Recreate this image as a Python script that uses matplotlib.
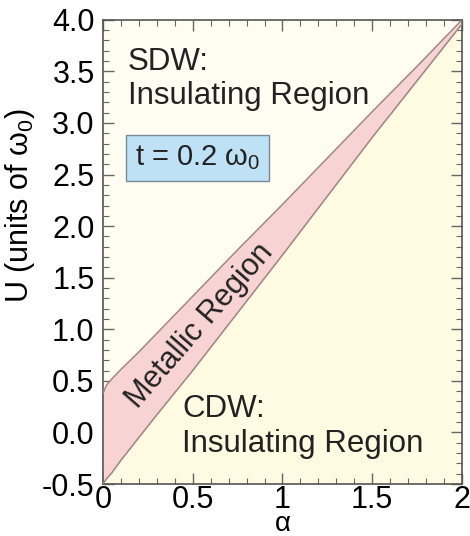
import numpy as np
import matplotlib
matplotlib.use("Agg")
import matplotlib.pyplot as plt
from matplotlib.ticker import MultipleLocator, FixedLocator, FixedFormatter

plt.rcParams['font.family'] = ['Liberation Sans', 'DejaVu Sans']
plt.rcParams['mathtext.fontset'] = 'custom'
plt.rcParams['mathtext.rm'] = 'Liberation Sans'
plt.rcParams['mathtext.it'] = 'Liberation Sans'

# phase boundaries
alpha = [0.0, 0.02, 0.05, 0.1, 0.2, 0.3, 0.5, 0.75, 1.0, 1.25, 1.5, 1.75, 2.0]
u_upper = [0.38, 0.46, 0.52, 0.61, 0.78, 0.96, 1.32, 1.77, 2.21, 2.66, 3.11, 3.55, 4.0]
u_lower = [-0.5, -0.45, -0.39, -0.27, -0.05, 0.17, 0.6, 1.16, 1.72, 2.29, 2.86, 3.41, 3.96]

x_ticks = [0, 0.5, 1, 1.5, 2]
x_labels = ['0', '0.5', '1', '1.5', '2']
y_ticks = [-0.5, 0.0, 0.5, 1.0, 1.5, 2.0, 2.5, 3.0, 3.5, 4.0]

fig = plt.figure(figsize=(4.7, 5.36), dpi=100)
ax = fig.add_axes([0.219, 0.097, 0.764, 0.866])
ax.set_facecolor('#fffdf2')

ax.fill_between(alpha, -0.5, u_lower, color='#fffbe3', lw=0, zorder=1)
ax.fill_between(alpha, u_lower, u_upper, color='#f7d3d3', lw=0, zorder=2)
ax.plot(alpha, u_upper, color='#a08585', lw=1.1, zorder=3)
ax.plot(alpha, u_lower, color='#a08585', lw=1.1, zorder=3)

ax.set_xlim(0, 2)
ax.set_ylim(-0.5, 4.0)
ax.xaxis.set_major_locator(FixedLocator(x_ticks))
ax.xaxis.set_major_formatter(FixedFormatter(x_labels))
ax.yaxis.set_major_locator(FixedLocator(y_ticks))
ax.yaxis.set_major_formatter(plt.FormatStrFormatter('%.1f'))
ax.xaxis.set_minor_locator(MultipleLocator(0.1))
ax.yaxis.set_minor_locator(MultipleLocator(0.1))
ax.tick_params(which='both', direction='in', top=True, right=True,
               color='#666666', labelsize=22)
ax.tick_params(axis='x', pad=1)
ax.tick_params(axis='y', pad=6)
ax.tick_params(which='major', length=8, width=1.0)
ax.tick_params(which='minor', length=4, width=0.8)
for s in ax.spines.values():
    s.set_color('#555555')
    s.set_linewidth(1.2)

ax.set_xlabel('α', fontsize=20, labelpad=-3)
ax.set_ylabel(r'U (units of $\omega_0$)', fontsize=22)
ax.yaxis.set_label_coords(-0.185, 0.6)

ax.text(0.14, 3.74, 'SDW:\nInsulating Region', fontsize=22.5, va='top',
        ha='left', linespacing=1.2, color='#222222', zorder=5)
ax.text(0.44, 0.37, 'CDW:\nInsulating Region', fontsize=22.5, va='top',
        ha='left', linespacing=1.2, color='#222222', zorder=5)
ax.text(0.18, 2.66, r't = 0.2 $\omega_0$', fontsize=21, va='center',
        ha='left', color='#222222', zorder=5,
        bbox=dict(boxstyle='square,pad=0.3', fc='#bfe1f6', ec='#7a8a99', lw=1))
ax.text(0.54, 1.03, 'Metallic Region', fontsize=22, rotation=49,
        ha='center', va='center', color='#222222', zorder=5,
        rotation_mode='anchor')

fig.savefig('out.png', dpi=100)
